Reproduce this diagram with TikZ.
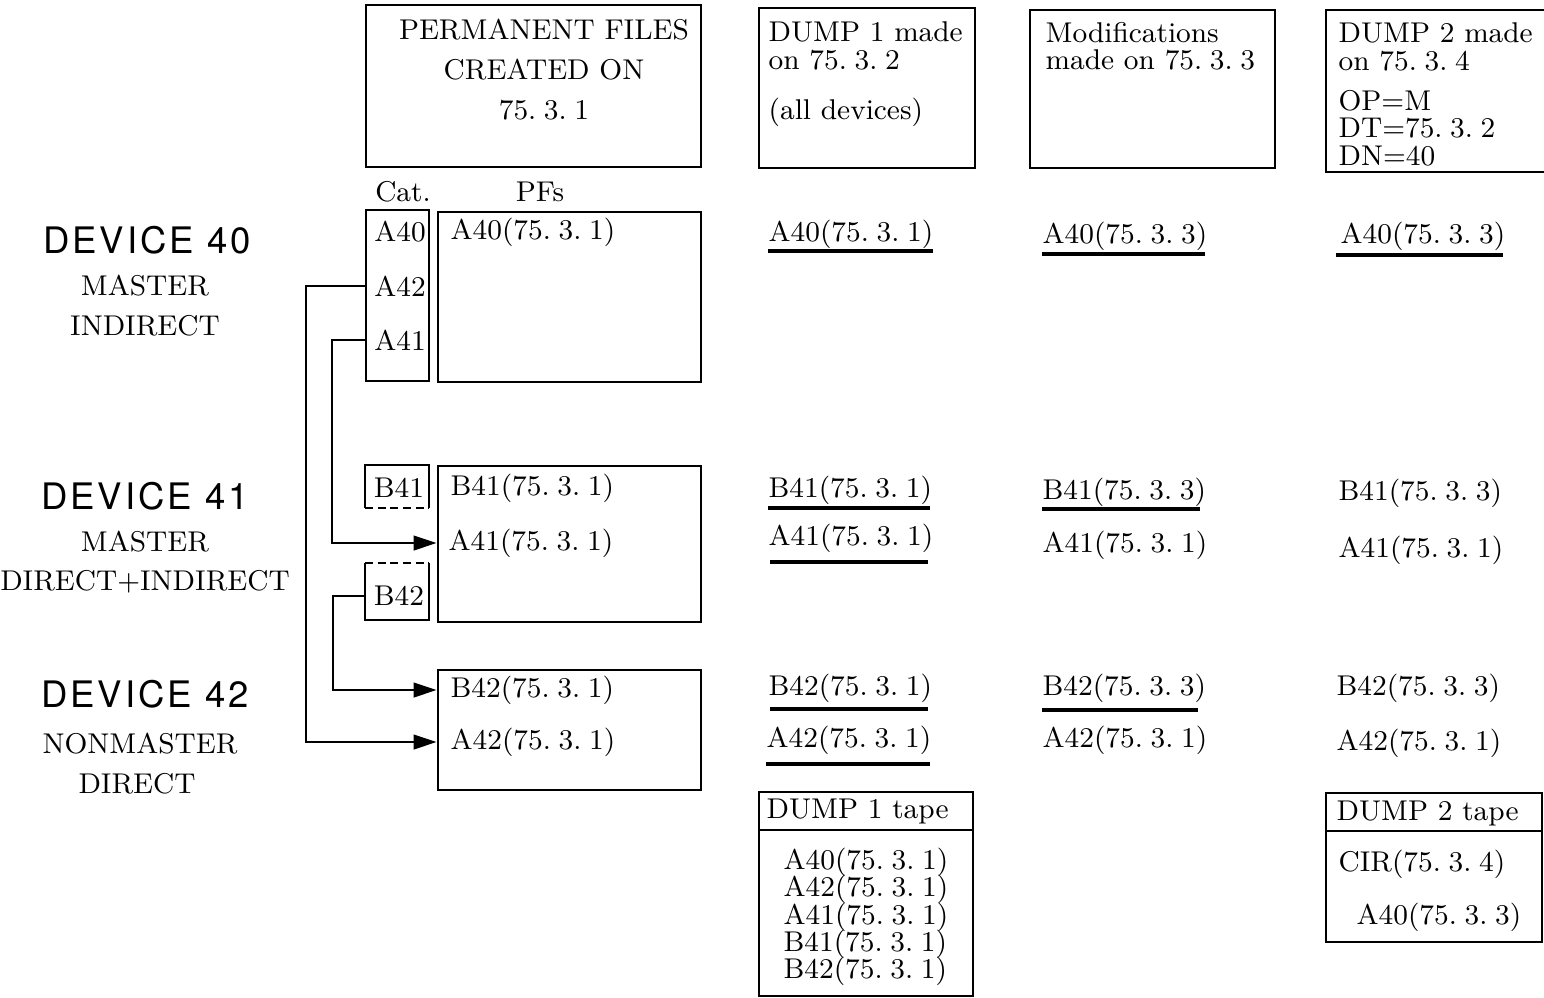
\documentclass[tikz,border=0pt]{standalone}
\usepackage{fontspec}
\usepackage{tikz}
\usetikzlibrary{arrows.meta,fit}

\newfontfamily\devfont[LetterSpace=8]{TeX Gyre Heros}
% dates are typed with a gap after each point
\newcommand\dt[3]{#1.\kern2.4pt#2.\kern2.4pt#3}
\newcommand\typedfont{\fontsize{9}{8.6}\selectfont\setlength{\lineskiplimit}{-6pt}}

\tikzset{
  box/.style={draw, line width=0.9pt, inner sep=0pt},
  txt/.style={anchor=west, inner sep=0pt, align=left, font=\typedfont},
  ctxt/.style={inner sep=0pt, align=center, font=\fontsize{9}{12.6}\selectfont},
  devname/.style={inner sep=0pt, font=\fontsize{11.5}{14}\devfont},
  devkind/.style={inner sep=0pt, font=\fontsize{9}{11}\selectfont},
  link/.style={line width=0.65pt, -{Triangle[length=7.2pt,width=4.6pt]}},
  uline/.style={line width=1.1pt},
  halfdash/.style={line width=0.9pt, dash pattern=on 2.5pt off 1.5pt},
}

\begin{document}
\begin{tikzpicture}[x=0.315pt, y=-0.315pt]
  \useasboundingbox (0,0) rectangle (1544,998);

  % header boxes
  \node[box, fit={(366,5) (701,167)}] (pfhead) {};
  \node[ctxt] (pftitle) at (544,70) {PERMANENT FILES\\CREATED ON\\\dt{75}{3}{1}};
  \node[box, fit={(759,8) (975,168)}] (d1head) {};
  \node[txt] (d1made) at (768,46) {DUMP 1 made\\on \dt{75}{3}{2}};
  \node[txt] (d1all) at (768,112) {(all devices)};
  \node[box, fit={(1030,10) (1275,168)}] (modhead) {};
  \node[txt] (modmade) at (1045,46) {Modifications\\made on \dt{75}{3}{3}};
  \draw[box] (1544,10) -| (1326,172) -- (1544,172); % runs off the page
  \node[txt] (d2made) at (1338,47) {DUMP 2 made\\on \dt{75}{3}{4}};
  \node[txt] (d2opts) at (1338,128) {OP=M\\DT=\dt{75}{3}{2}\\DN=40};

  \node[txt, anchor=center] (catlbl) at (403,192) {Cat.};
  \node[txt, anchor=center] (pflbl) at (540,192) {PFs};

  % device 40
  \node[devname] (dev40) at (147,240) {DEVICE 40};
  \node[devkind] (dev40m) at (145,286) {MASTER};
  \node[devkind] (dev40i) at (145,326) {INDIRECT};
  \node[box, fit={(366,210) (429,381)}] (cat40) {};
  \node[box, fit={(438,212) (701,382)}] (pf40) {};
  \node[txt, anchor=center] (c40a40) at (400,232) {A40};
  \node[txt, anchor=center] (c40a42) at (400,286) {A42};
  \node[txt, anchor=center] (c40a41) at (400,340) {A41};
  \node[txt] (p40a40) at (450,232) {A40(\dt{75}{3}{1})};

  % device 41
  \node[devname] (dev41) at (145,496) {DEVICE 41};
  \node[devkind] (dev41m) at (145,542) {MASTER};
  \node[devkind] (dev41d) at (145,582) {DIRECT+INDIRECT};
  \draw[box] (365,508) |- (429,465) -- (429,508);
  \draw[halfdash] (365,508) -- (429,508);
  \node[txt, anchor=center] (c41b41) at (399,488) {B41};
  \draw[halfdash] (365,563) -- (429,563);
  \draw[box] (365,563) |- (429,620) -- (429,563);
  \node[txt, anchor=center] (c41b42) at (399,596) {B42};
  \node[box, fit={(438,466) (701,622)}] (pf41) {};
  \node[txt] (p41b41) at (450,488) {B41(\dt{75}{3}{1})};
  \node[txt] (p41a41) at (448,543) {A41(\dt{75}{3}{1})};

  % device 42
  \node[devname] (dev42) at (145,694) {DEVICE 42};
  \node[devkind] (dev42n) at (140,744) {NONMASTER};
  \node[devkind] (dev42d) at (137,784) {DIRECT};
  \node[box, fit={(438,670) (701,790)}] (pf42) {};
  \node[txt] (p42b42) at (450,690) {B42(\dt{75}{3}{1})};
  \node[txt] (p42a42) at (450,742) {A42(\dt{75}{3}{1})};

  % catalog links
  \draw[link] (c40a42 -| cat40.west) -- ++(-59,0) |- (p42a42 -| pf42.west);
  \draw[link] (c40a41 -| cat40.west) -- ++(-33,0) |- (p41a41 -| pf41.west);
  \draw[link] (c41b42 -| cat40.west) -- ++(-32,0) |- (p42b42 -| pf42.west);

  % DUMP 1 column
  \node[txt] (d1a40) at (768,234) {A40(\dt{75}{3}{1})};
  \draw[uline] (768,251) -- (933,251);
  \node[txt] (d1b41) at (768,490) {B41(\dt{75}{3}{1})};
  \draw[uline] (768,508) -- (930,508);
  \node[txt] (d1a41) at (768,538) {A41(\dt{75}{3}{1})};
  \draw[uline] (770,562) -- (928,562);
  \node[txt] (d1b42) at (768,688) {B42(\dt{75}{3}{1})};
  \draw[uline] (770,709) -- (928,709);
  \node[txt] (d1a42) at (766,740) {A42(\dt{75}{3}{1})};
  \draw[uline] (766,764) -- (930,764);

  % modifications column
  \node[txt] (mda40) at (1042,236) {A40(\dt{75}{3}{3})};
  \draw[uline] (1042,254) -- (1205,254);
  \node[txt] (mdb41) at (1042,492) {B41(\dt{75}{3}{3})};
  \draw[uline] (1042,509) -- (1200,509);
  \node[txt] (mda41) at (1042,545) {A41(\dt{75}{3}{1})};
  \node[txt] (mdb42) at (1042,688) {B42(\dt{75}{3}{3})};
  \draw[uline] (1042,710) -- (1198,710);
  \node[txt] (mda42) at (1042,740) {A42(\dt{75}{3}{1})};

  % DUMP 2 column
  \node[txt] (d2a40) at (1340,236) {A40(\dt{75}{3}{3})};
  \draw[uline] (1336,255) -- (1503,255);
  \node[txt] (d2b41) at (1338,493) {B41(\dt{75}{3}{3})};
  \node[txt] (d2a41) at (1338,550) {A41(\dt{75}{3}{1})};
  \node[txt] (d2b42) at (1336,688) {B42(\dt{75}{3}{3})};
  \node[txt] (d2a42) at (1336,743) {A42(\dt{75}{3}{1})};

  % tapes
  \node[box, fit={(759,792) (973,996)}] (tape1) {};
  \draw[box] (759,830) -- (973,830);
  \node[txt] (t1name) at (766,812) {DUMP 1 tape};
  \node[txt] (t1list) at (783,917) {A40(\dt{75}{3}{1})\\A42(\dt{75}{3}{1})\\A41(\dt{75}{3}{1})\\B41(\dt{75}{3}{1})\\B42(\dt{75}{3}{1})};
  \node[box, fit={(1326,793) (1542,942)}] (tape2) {};
  \draw[box] (1326,831) -- (1542,831);
  \node[txt] (t2name) at (1336,814) {DUMP 2 tape};
  \node[txt] (t2cir) at (1338,864) {CIR(\dt{75}{3}{4})};
  \node[txt] (t2a40) at (1356,917) {A40(\dt{75}{3}{3})};
\end{tikzpicture}
\end{document}
